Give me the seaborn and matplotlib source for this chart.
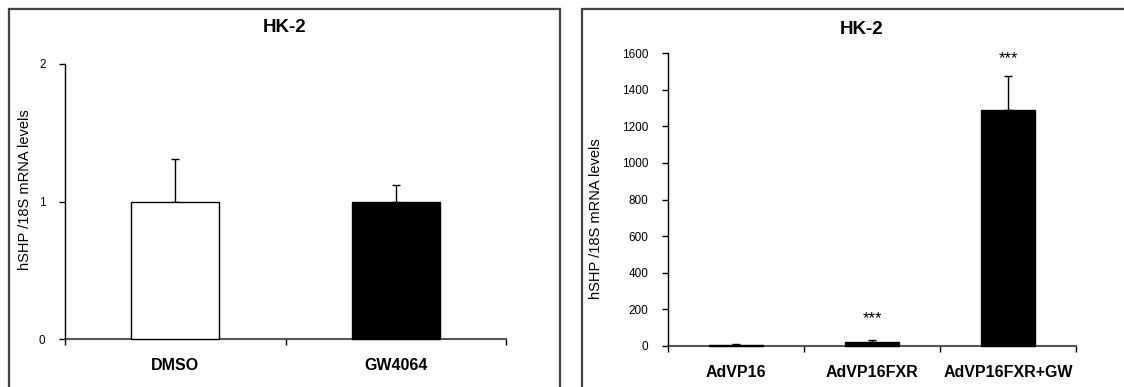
import matplotlib
matplotlib.use("Agg")
import matplotlib.pyplot as plt
from matplotlib.patches import Rectangle
import seaborn as sns
import numpy as np

# Panel A: GW4064 treatment
treat_labels = ["DMSO", "GW4064"]
treat_means = [1.0, 1.0]
treat_sem = [0.31, 0.12]
treat_colors = ["white", "black"]

# Panel B: adenoviral FXR expression
adv_labels = ["AdVP16", "AdVP16FXR", "AdVP16FXR+GW"]
adv_means = [8, 22, 1290]
adv_sem = [2, 9, 185]
adv_stars = ["", "***", "***"]
adv_star_y = [None, 150, 1572]

ylabel = "hSHP /18S mRNA levels"
title = "HK-2"

sns.set_theme(style="white")
plt.rcParams["font.family"] = ["Liberation Sans", "DejaVu Sans"]
plt.rcParams.update({"text.color": "black", "axes.labelcolor": "black",
                     "xtick.color": "black", "ytick.color": "black"})

W, H = 1124, 387
fig = plt.figure(figsize=(W / 100, H / 100), dpi=100)


def px_axes(x0, x1, ytop, ybot):
    return fig.add_axes([x0 / W, (H - ybot) / H, (x1 - x0) / W, (ybot - ytop) / H])


def style_axes(ax, n, yticks):
    ax.set_xlim(-0.5, n - 0.5)
    ax.set_ylim(yticks[0], yticks[-1])
    ax.set_yticks(yticks)
    ax.set_yticklabels([str(t) for t in yticks], fontsize=8.5)
    ax.set_xticks(range(n))
    ax.tick_params(axis="x", which="major", length=0, pad=14, labelsize=11.5,
                   labelcolor="black")
    for lab in ax.get_xticklabels():
        lab.set_fontweight("bold")
    ax.set_xticks(np.arange(-0.5, n, 1.0), minor=True)
    ax.tick_params(axis="x", which="minor", direction="out", length=4, width=1,
                   color="black", bottom=True)
    ax.tick_params(axis="y", direction="out", length=4, width=1, color="black",
                   left=True, pad=10, labelcolor="black")
    for s in ["top", "right"]:
        ax.spines[s].set_visible(False)
    ax.spines["left"].set_color("black")
    ax.spines["left"].set_linewidth(1)
    ax.spines["bottom"].set_color("#555555")
    ax.spines["bottom"].set_linewidth(1.5)
    ax.spines["bottom"].set_zorder(1)
    for p in ax.patches:
        p.set_zorder(3)
        p.set_clip_on(False)
    ax.set_xlabel("")
    ax.set_ylabel("")
    ax.set_facecolor("white")


# Frames around the two panels
for x0, x1 in [(9, 560), (582, 1140)]:
    fig.add_artist(Rectangle((x0 / W, -0.05), (x1 - x0) / W, (H - 9) / H + 0.05,
                             transform=fig.transFigure, fill=False,
                             edgecolor="#444444", linewidth=1.6, clip_on=False))

# Left panel
ax1 = px_axes(65, 506, 64, 339)
sns.barplot(x=treat_labels, y=treat_means, hue=treat_labels, palette=treat_colors,
            edgecolor="black", linewidth=1, width=0.4, saturation=1,
            legend=False, ax=ax1)
ax1.errorbar(range(len(treat_labels)), treat_means,
             yerr=[np.zeros(len(treat_sem)), treat_sem], fmt="none",
             ecolor="black", elinewidth=1, capsize=3, capthick=1, zorder=2)
style_axes(ax1, len(treat_labels), [0, 1, 2])
fig.text(285 / W, (H - 28) / H, title, ha="center", va="center",
         fontsize=13.5, fontweight="bold")
fig.text(25 / W, (H - 190) / H, ylabel, rotation=90, ha="center", va="center",
         fontsize=10.5)

# Right panel
ax2 = px_axes(668, 1076, 53, 346)
sns.barplot(x=adv_labels, y=adv_means, color="black",
            edgecolor="black", linewidth=1, width=0.4, saturation=1, ax=ax2)
ax2.errorbar(range(len(adv_labels)), adv_means,
             yerr=[np.zeros(len(adv_sem)), adv_sem], fmt="none",
             ecolor="black", elinewidth=1, capsize=3, capthick=1, zorder=2)
style_axes(ax2, len(adv_labels), list(range(0, 1601, 200)))
for i, (s, y) in enumerate(zip(adv_stars, adv_star_y)):
    if s:
        ax2.text(i, y, s, ha="center", va="center", fontsize=12)
fig.text(862 / W, (H - 30) / H, title, ha="center", va="center",
         fontsize=13.5, fontweight="bold")
fig.text(596 / W, (H - 219) / H, ylabel, rotation=90, ha="center", va="center",
         fontsize=10.5)

fig.savefig("out.png", dpi=100, facecolor="white")
